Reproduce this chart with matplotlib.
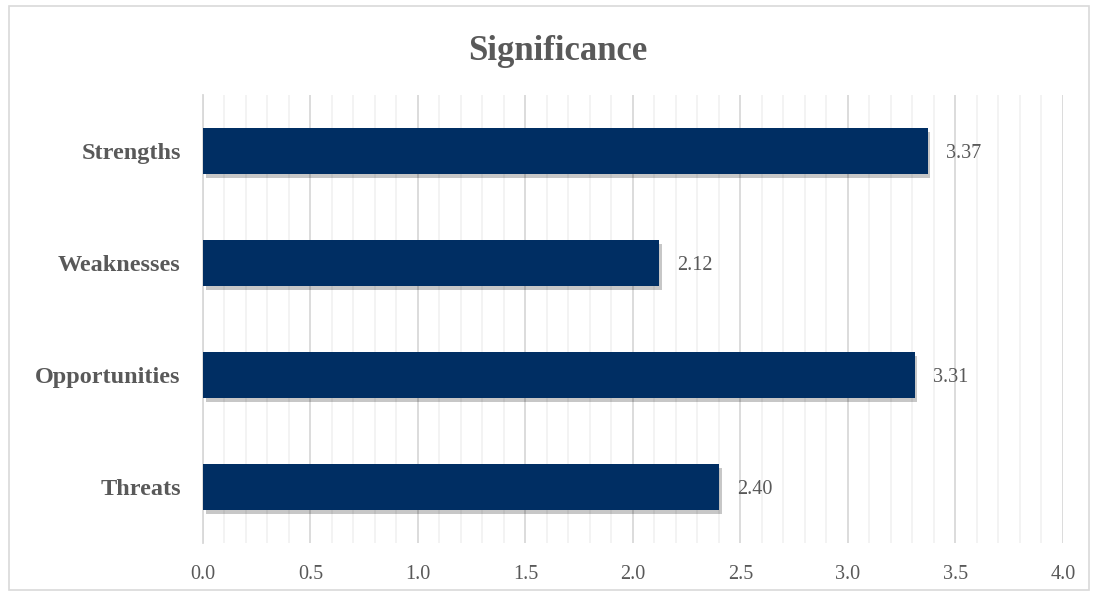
import numpy as np
import matplotlib.pyplot as plt
import matplotlib.patheffects as pe
from matplotlib.ticker import MultipleLocator
from matplotlib.patches import Rectangle

categories = ['Strengths', 'Weaknesses', 'Opportunities', 'Threats']
values = [3.37, 2.12, 3.31, 2.40]
xticks = [0.0, 0.5, 1.0, 1.5, 2.0, 2.5, 3.0, 3.5, 4.0]

grey = '#595959'
bar_color = '#002e63'

plt.rcParams['font.family'] = ['Liberation Serif', 'DejaVu Serif']

fig = plt.figure(figsize=(10.97, 5.96), dpi=100)
ax = fig.add_axes([0.185, 0.089, 0.784, 0.752])

# light border round the chart area, like the Excel chart frame
fig.patches.append(Rectangle((0.008, 0.01), 0.985, 0.98, transform=fig.transFigure,
                             fill=False, edgecolor='#d9d9d9', linewidth=1.2))

y = np.arange(len(categories))
bars = ax.barh(y, values, height=0.41, color=bar_color, zorder=3)
for b in bars:
    b.set_path_effects([pe.SimplePatchShadow(offset=(2, -3), shadow_rgbFace='#000000', alpha=0.22),
                        pe.Normal()])

# data labels to the right of each bar
for yi, v in zip(y, values):
    ax.text(v + 0.085, yi, f'{v:.2f}', va='center_baseline', ha='left', fontsize=14.5, color=grey)

ax.set_ylim(len(categories) - 0.5, -0.5)
ax.set_xlim(0, 4.0)
ax.set_yticks(y)
ax.set_yticklabels(categories, fontsize=17.5, fontweight='bold', color=grey)
ax.set_xticks(xticks)
ax.set_xticklabels([f'{t:.1f}' for t in xticks], fontsize=14.5, color=grey)
ax.xaxis.set_minor_locator(MultipleLocator(0.1))

ax.grid(axis='x', which='major', color='#d9d9d9', linewidth=1.3, zorder=0)
ax.grid(axis='x', which='minor', color='#f0f0f0', linewidth=1.1, zorder=0)
ax.tick_params(axis='both', which='both', length=0)
ax.tick_params(axis='x', pad=16)
ax.tick_params(axis='y', pad=16)
for s in ['top', 'right', 'bottom']:
    ax.spines[s].set_visible(False)
ax.spines['left'].set_color('#d9d9d9')
ax.spines['left'].set_linewidth(1.3)

fig.text(0.508, 0.914, 'Significance', ha='center', va='center', fontsize=25,
         fontweight='bold', color=grey)

fig.savefig('out.png', dpi=100)
